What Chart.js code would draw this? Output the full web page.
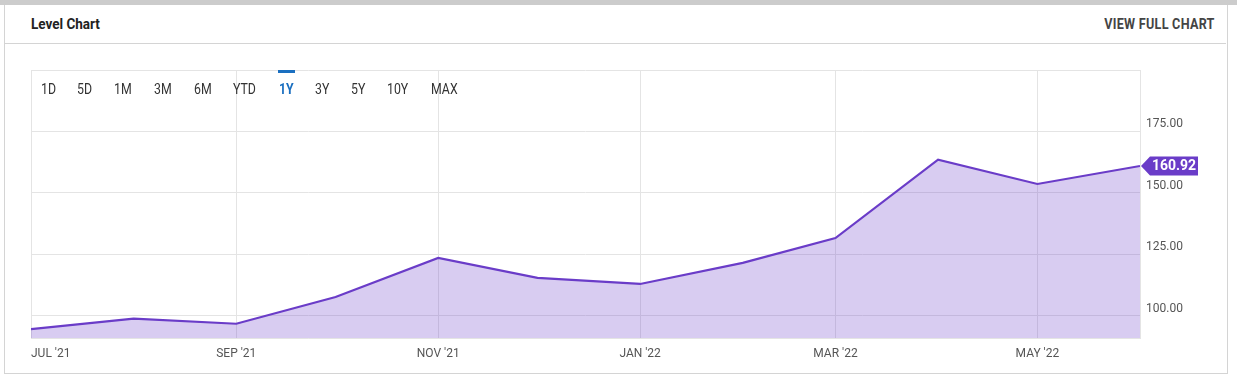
<!DOCTYPE html>
<html>
<head>
<meta charset="utf-8">
<script src="https://cdn.jsdelivr.net/npm/chart.js@4.4.0/dist/chart.umd.min.js"></script>
<style>
  html, body { margin: 0; padding: 0; background: #fff; }
  body { width: 1237px; height: 389px; position: relative; overflow: hidden; font-family: Roboto, "Noto Sans", sans-serif; }
  .topbar { position: absolute; left: 0; top: 0; width: 1237px; height: 5px; background: #cccccc; }
  .card { position: absolute; left: 4px; top: 5px; width: 1222px; height: 368px; border: 1px solid #d4d4d4; border-top: none; }
  .head { position: absolute; left: 4px; top: 5px; width: 1222px; height: 38px; border-bottom: 1px solid #d4d4d4; }
  .title { position: absolute; left: 27px; top: 10px; font-size: 15px; font-weight: 700; color: #222; transform: scaleX(0.9); transform-origin: left; }
  .full { position: absolute; right: 11px; top: 11px; font-size: 14px; font-weight: 700; color: #444; letter-spacing: 0.3px; transform: scaleX(0.9); transform-origin: right; }
  .ranges span { position: absolute; top: 81px; font-size: 14px; color: #333; transform: scaleX(0.88); transform-origin: left; }
  .ranges span.on { color: #1a6fc0; font-weight: 700; }
  .ranges .bar { position: absolute; left: 278px; top: 70px; width: 17px; height: 3px; background: #1a6fc0; }
  #wrap { position: absolute; left: 0; top: 0; width: 1237px; height: 389px; }
</style>
</head>
<body>
<div class="topbar"></div>
<div class="card"></div>
<div class="head">
  <div class="title">Level Chart</div>
  <div class="full">VIEW FULL CHART</div>
</div>
<div id="wrap"><canvas id="levelChart" width="1237" height="389"></canvas></div>
<div class="ranges" id="ranges"><div class="bar"></div></div>
<script>
// 資料
const dates = ['2021-07-01', '2021-08-01', '2021-09-01', '2021-10-01', '2021-11-01', '2021-12-01',
               '2022-01-01', '2022-02-01', '2022-03-01', '2022-04-01', '2022-05-01', '2022-06-01'];
const levels = [94.5, 98.8, 96.7, 107.6, 123.5, 115.4, 112.9, 121.5, 131.6, 163.5, 153.6, 160.92];
const tickDates = ['2021-07-01', '2021-09-01', '2021-11-01', '2022-01-01', '2022-03-01', '2022-05-01'];
const tickLabels = ["JUL '21", "SEP '21", "NOV '21", "JAN '22", "MAR '22", "MAY '22"];
const yTicks = [100, 125, 150, 175];
const rangeNames = ['1D', '5D', '1M', '3M', '6M', 'YTD', '1Y', '3Y', '5Y', '10Y', 'MAX'];
const rangeLeft = [41, 77, 114, 154, 194, 233, 279, 315, 351, 387, 431];
const activeRange = '1Y';

// 日期換成天數
const dayOf = d => (Date.parse(d) - Date.parse(dates[0])) / 86400000;
const points = dates.map((d, i) => ({ x: dayOf(d), y: levels[i] }));
const tickDays = tickDates.map(dayOf);
const lastDay = dayOf(dates[dates.length - 1]);

// 時間區間按鈕
const ranges = document.getElementById('ranges');
rangeNames.forEach((name, i) => {
    const s = document.createElement('span');
    s.textContent = name;
    s.style.left = rangeLeft[i] + 'px';
    if (name === activeRange) s.className = 'on';
    ranges.appendChild(s);
});

const purple = '#6a3cc8';

// 最後一點的價格標籤
const lastTag = {
    id: 'lastTag',
    afterDraw(chart) {
        const meta = chart.getDatasetMeta(0);
        const pt = meta.data[meta.data.length - 1];
        const ctx = chart.ctx;
        const x = pt.x + 1, y = pt.y;
        ctx.save();
        ctx.fillStyle = purple;
        ctx.beginPath();
        ctx.moveTo(x, y);
        ctx.lineTo(x + 9, y - 9.5);
        ctx.lineTo(x + 57, y - 9.5);
        ctx.lineTo(x + 57, y + 9.5);
        ctx.lineTo(x + 9, y + 9.5);
        ctx.closePath();
        ctx.fill();
        ctx.fillStyle = '#fff';
        ctx.font = 'bold 14px Roboto';
        ctx.textBaseline = 'middle';
        ctx.textAlign = 'center';
        ctx.fillText(levels[levels.length - 1].toFixed(2), x + 33, y + 1);
        ctx.restore();
    }
};

const ctx = document.getElementById('levelChart').getContext('2d');
new Chart(ctx, {
    type: 'line',
    data: {
        datasets: [{
            data: points,
            borderColor: purple,
            borderWidth: 2.2,
            backgroundColor: 'rgba(112, 66, 205, 0.27)',
            fill: 'start',
            tension: 0,
            pointRadius: 0
        }]
    },
    options: {
        responsive: false,
        animation: false,
        devicePixelRatio: 1,
        layout: { padding: { left: 31, top: 70, right: 10, bottom: 0 } },
        plugins: { legend: { display: false }, tooltip: { enabled: false } },
        scales: {
            x: {
                type: 'linear',
                min: 0,
                max: lastDay,
                // 最後加一個空白刻度，讓 MAY 標籤置中
                afterBuildTicks: s => { s.ticks = tickDays.concat([lastDay]).map(v => ({ value: v })); },
                grid: { drawTicks: false, color: '#e4e4e4' },
                border: { color: '#e4e4e4' },
                ticks: {
                    autoSkip: false,
                    maxRotation: 0,
                    align: 'inner',
                    padding: 9,
                    color: '#555',
                    font: { family: 'Roboto', size: 12 },
                    callback: v => {
                        const i = tickDays.indexOf(v);
                        return i >= 0 ? tickLabels[i] : '';
                    }
                },
                afterFit: s => { s.height = 51; }
            },
            y: {
                position: 'right',
                min: 90.9,
                max: 200,
                grid: { drawTicks: false, color: '#e4e4e4' },
                border: { color: '#e4e4e4' },
                ticks: {
                    stepSize: 25,
                    padding: 6,
                    labelOffset: -7,
                    color: '#555',
                    font: { family: 'Roboto', size: 12 },
                    callback: v => yTicks.includes(v) ? v.toFixed(2) : ''
                },
                afterFit: s => { s.width = 87; }
            }
        }
    },
    plugins: [lastTag]
});
</script>
</body>
</html>
